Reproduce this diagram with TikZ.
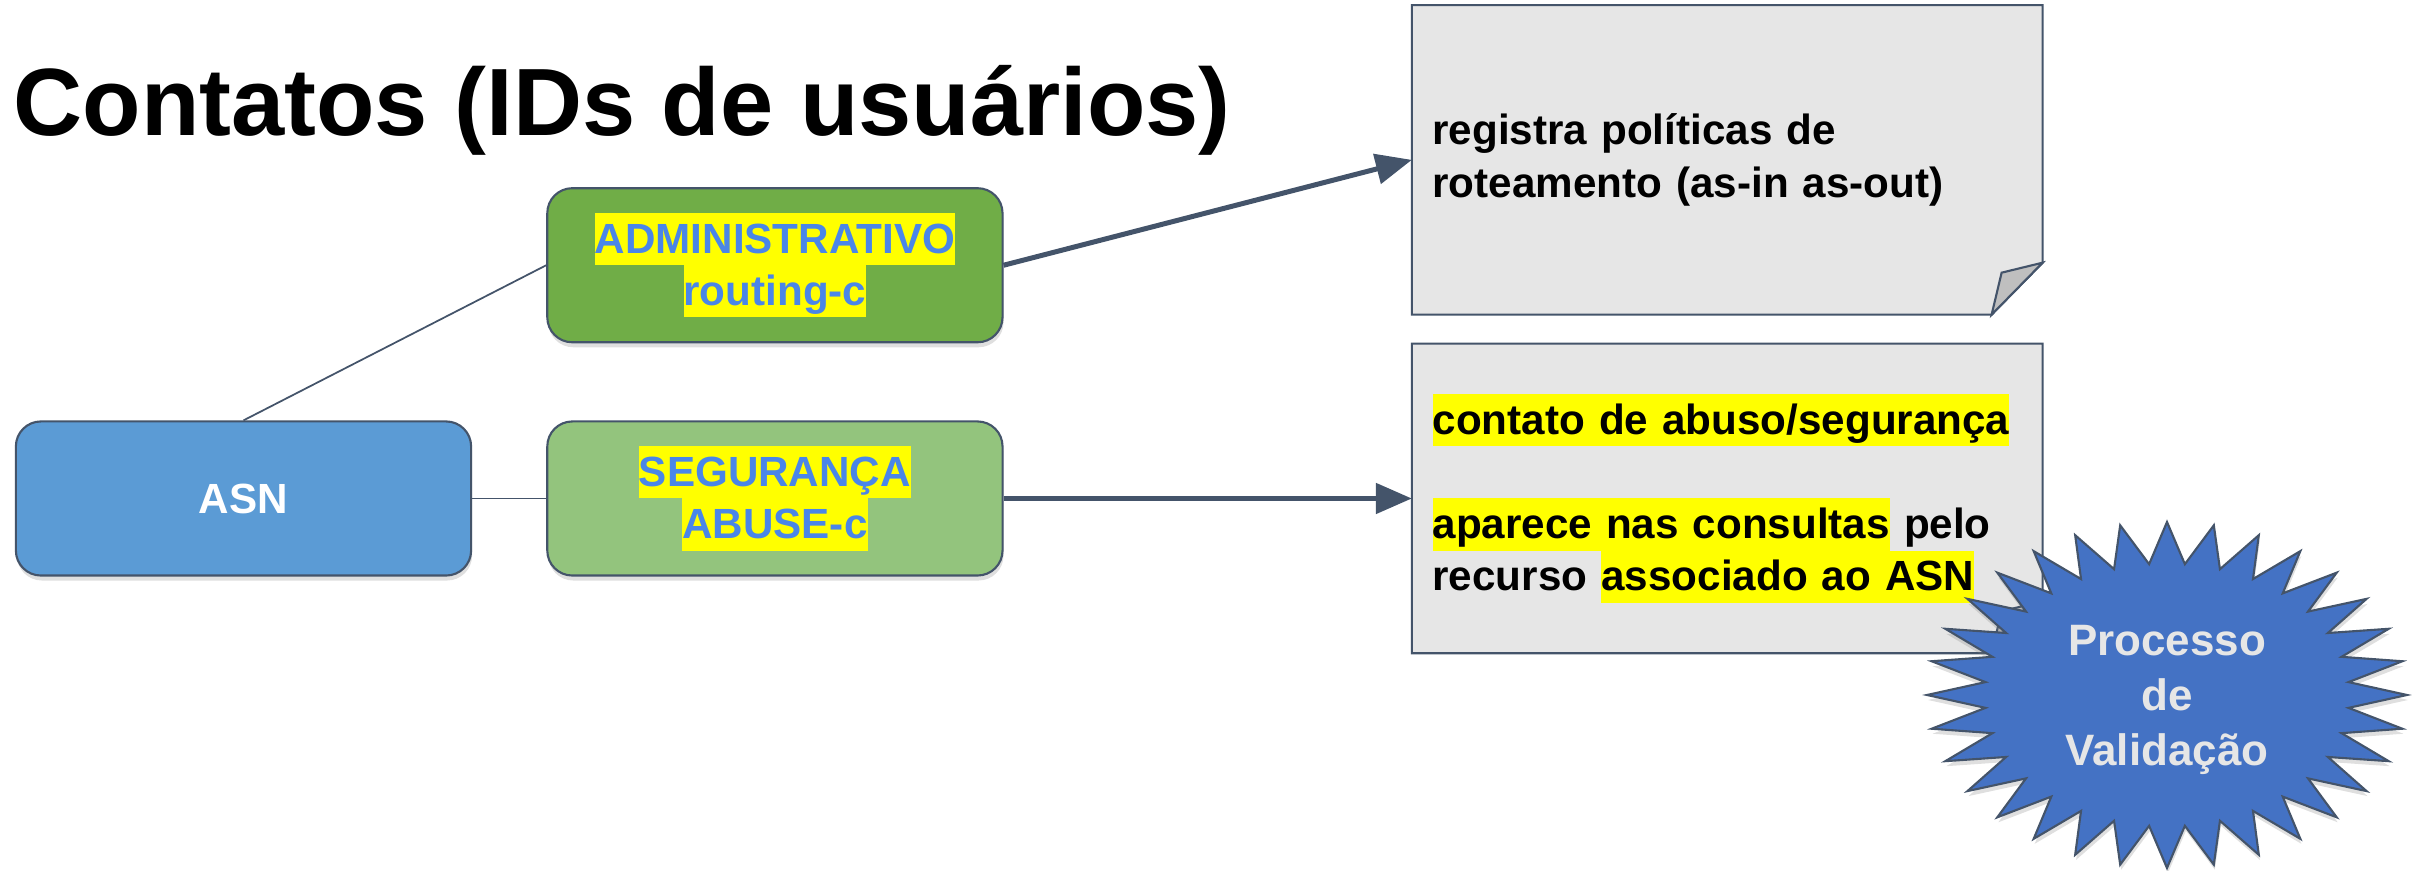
\documentclass[tikz,border=0pt]{standalone}
\usepackage{fontspec}
\setmainfont{Liberation Sans}
\usetikzlibrary{positioning,calc,arrows.meta,shadows,backgrounds}
\definecolor{asnblue}{HTML}{5B9BD5}
\definecolor{admgreen}{HTML}{70AD47}
\definecolor{seggreen}{HTML}{93C47D}
\definecolor{slate}{HTML}{44546A}
\definecolor{notegray}{HTML}{E6E6E6}
\definecolor{foldgray}{HTML}{BFBFBF}
\definecolor{linkblue}{HTML}{4A86E8}
\definecolor{starblue}{HTML}{4472C4}
\definecolor{hlyellow}{HTML}{FFFF00}
\newcommand\hl[1]{{\setlength\fboxsep{0pt}\colorbox{hlyellow}{\rule[-3.4pt]{0pt}{14.8pt}#1}}}

\begin{document}
\begin{tikzpicture}[x=0.01cm,y=-0.01cm,
  box/.style={draw=slate,line width=0.6pt,rounded corners=0.25cm,minimum width=4.55cm,minimum height=1.54cm,inner sep=0pt,align=center,font=\bfseries\fontsize{12}{14.8}\selectfont,drop shadow={opacity=0.25,shadow xshift=0.01cm,shadow yshift=-0.05cm}},
  note/.style={minimum height=3.08cm,text width=5.89cm,inner xsep=0.2cm,inner ysep=0pt,align=left,font=\bfseries\fontsize{12}{14.8}\selectfont},
  notebox/.style={draw=slate,line width=0.6pt,fill=notegray},
  link/.style={draw=slate,line width=0.5pt},
  flow/.style={draw=slate,line width=0.05cm,-{Triangle[length=0.36cm,width=0.3cm]}}]
  \useasboundingbox (0,0) rectangle (2423,871);
  \node[anchor=base west,inner sep=0pt,font=\bfseries\fontsize{27.2}{32}\selectfont] (title) at (13,136) {Contatos (IDs de usuários)};
  \node[box,fill=asnblue,text=white] (asn) at (243.5,498.5) {ASN};
  \node[box,fill=seggreen,text=linkblue,right=0.74cm of asn] (seg) {\hl{SEGURANÇA}\\\hl{ABUSE-c}};
  \node[box,fill=admgreen,text=linkblue,above=0.77cm of seg] (adm) {\hl{ADMINISTRATIVO}\\\hl{routing-c}};
  \draw[link] (asn.north) -- (adm.west);
  \draw[link] (asn.east) -- (seg.west);
  \node[note,right=4.08cm of seg] (n2) {\hl{contato de abuso/segurança}\\[14.8pt]\hl{aparece nas consultas} pelo\\recurso \hl{associado ao ASN}};
  \node[note,above=0.29cm of n2] (n1) {registra políticas de\\roteamento (as-in as-out)};
  \begin{scope}[on background layer]
  \foreach \n in {n1,n2} {
    \filldraw[notebox] (\n.north west) -- (\n.north east) -- ($(\n.south east)+(0,-52)$) -- ($(\n.south east)+(-51,0)$) -- (\n.south west) -- cycle;
    \filldraw[notebox,fill=foldgray] ($(\n.south east)+(0,-52)$) -- ($(\n.south east)+(-41,-42)$) -- ($(\n.south east)+(-51,0)$) -- cycle;
  }
  \end{scope}
  \draw[flow] (adm.east) -- (n1.west);
  \draw[flow] (seg.east) -- (n2.west);
  \filldraw[draw=slate,line width=0.6pt,fill=starblue,drop shadow={opacity=0.25,shadow xshift=0.01cm,shadow yshift=-0.05cm}] plot[samples at={0,...,63},variable=\k] ({2167+240*(1-0.24*mod(\k,2))*cos(90+\k*5.625)},{695-173*(1-0.24*mod(\k,2))*sin(90+\k*5.625)}) -- cycle;
  \node[align=center,text=notegray,font=\bfseries\fontsize{12.5}{15.6}\selectfont] (val) at (2167,700) {Processo\\de\\Validação};
\end{tikzpicture}
\end{document}
